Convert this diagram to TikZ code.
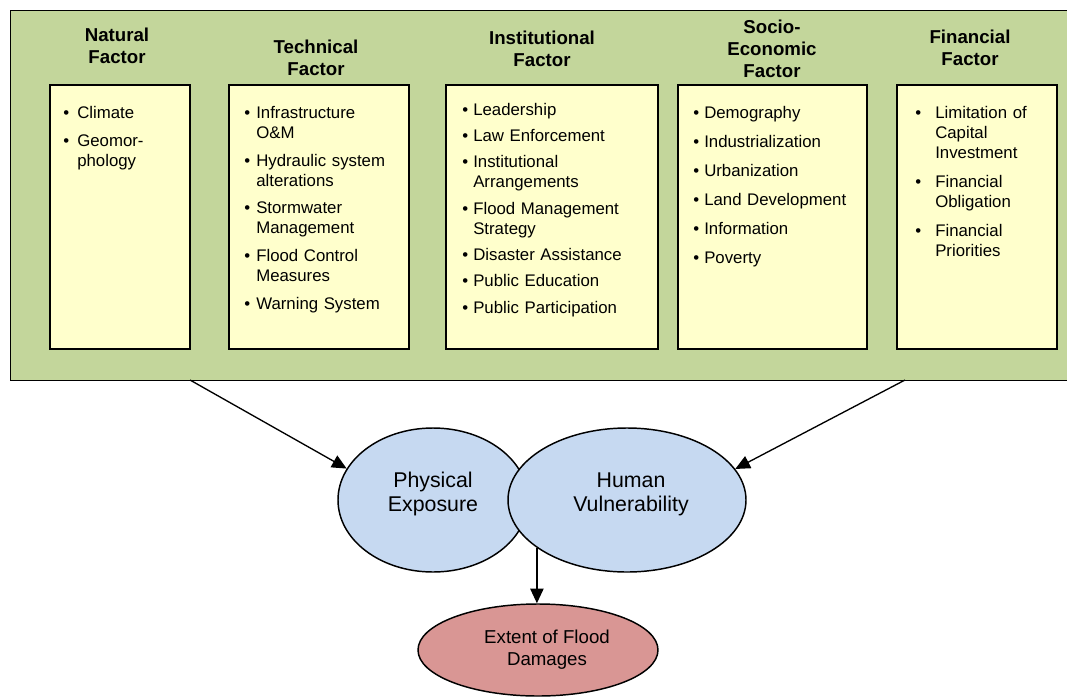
\documentclass[tikz,border=0pt]{standalone}
\usepackage{fontspec}
\setmainfont{Liberation Sans}
\usetikzlibrary{shapes.geometric,arrows.meta}
\newlength\px \setlength\px{0.75pt}
\newlength\hind
\newlength\igap
\definecolor{framegreen}{HTML}{C3D69B}
\definecolor{boxyellow}{HTML}{FFFFCC}
\definecolor{ellblue}{HTML}{C6D9F1}
\definecolor{ellred}{HTML}{D99694}
\newcommand\itm[1]{\hangindent=\hind\hangafter=1\noindent\makebox[\hind][l]{\textbullet}#1\par}
\newcommand\gp{\vspace{\igap}}
\tikzset{
  frame/.style={draw=black, line width=1.1pt, fill=framegreen, rectangle, inner sep=0pt},
  ybox/.style={draw=black, line width=1.5pt, fill=boxyellow, rectangle, inner sep=0pt, minimum height=264\px},
  ttl/.style={inner sep=0pt, align=center, font=\fontsize{14pt}{16.5pt}\selectfont\bfseries},
  items/.style={inner sep=0pt, anchor=north west, text width=200\px, align=left, font=\fontsize{12.6pt}{15pt}\selectfont},
  ell/.style={ellipse, draw=black, line width=1.1pt, inner sep=0pt},
  etxt/.style={inner sep=0pt, align=center, font=\fontsize{16pt}{18pt}\selectfont},
  arr/.style={draw=black, line width=1pt, -{Triangle[length=11pt,width=10pt]}}
}
\begin{document}
\begin{tikzpicture}[x=0.75pt,y=-0.75pt]
\useasboundingbox (0,0) rectangle (1067,696);
% frame
\node[frame, minimum width=1062\px, minimum height=370\px, anchor=north west] (frame) at (10,10) {};
% boxes
\node[ybox, minimum width=140\px, anchor=north west] (b1) at (49,84) {};
\node[ybox, minimum width=180\px, anchor=north west] (b2) at (228,84) {};
\node[ybox, minimum width=212\px, anchor=north west] (b3) at (445,84) {};
\node[ybox, minimum width=189\px, anchor=north west] (b4) at (677,84) {};
\node[ybox, minimum width=160\px, anchor=north west] (b5) at (896,84) {};
% titles
\node[ttl] (h1) at (117,46) {Natural\\Factor};
\node[ttl] (h2) at (316,58) {Technical\\Factor};
\node[ttl] (h3) at (542,49) {Institutional\\Factor};
\node[ttl] (h4) at (772,49) {Socio-\\Economic\\Factor};
\node[ttl] (h5) at (970,48) {Financial\\Factor};
% items
\node[items] (t1) at (63,106) {\setlength\hind{14\px}\setlength\igap{6pt}%
\itm{Climate}\gp
\itm{Geomor-\newline phology}};
\node[items] (t2) at (244,106) {\setlength\hind{12\px}\setlength\igap{5.8pt}%
\itm{Infrastructure\newline O\&M}\gp
\itm{Hydraulic system\newline alterations}\gp
\itm{Stormwater\newline Management}\gp
\itm{Flood Control\newline Measures}\gp
\itm{Warning System}};
\node[items] (t3) at (462,103) {\setlength\hind{11\px}\setlength\igap{4.7pt}%
\itm{Leadership}\gp
\itm{Law Enforcement}\gp
\itm{Institutional\newline Arrangements}\gp
\itm{Flood Management\newline Strategy}\gp
\itm{Disaster Assistance}\gp
\itm{Public Education}\gp
\itm{Public Participation}};
\node[items] (t4) at (693,106) {\setlength\hind{11\px}\setlength\igap{6.75pt}%
\itm{Demography}\gp
\itm{Industrialization}\gp
\itm{Urbanization}\gp
\itm{Land Development}\gp
\itm{Information}\gp
\itm{Poverty}};
\node[items] (t5) at (915,106) {\setlength\hind{20\px}\setlength\igap{6.75pt}%
\itm{Limitation of\newline Capital\newline Investment}\gp
\itm{Financial\newline Obligation}\gp
\itm{Financial\newline Priorities}};
% ellipses
\node[ell, fill=ellblue, minimum width=190\px, minimum height=144\px] (phys) at (433,500) {};
\node[ell, fill=ellblue, minimum width=238\px, minimum height=144\px] (hum) at (627,500) {};
\node[ell, fill=ellred, minimum width=240\px, minimum height=92\px] (ext) at (538,650) {};
\node[etxt] (physt) at (433,494) {Physical\\Exposure};
\node[etxt] (humt) at (631,494) {Human\\Vulnerability};
\node[etxt, font=\fontsize{14pt}{16.5pt}\selectfont] (extt) at (547,650) {Extent of Flood\\Damages};
% connectors
\coordinate (a1) at (190,380);
\coordinate (a2) at (905,380);
\draw[arr] (a1) -- (phys.160);
\draw[arr] (a2) -- (hum.16);
\draw[arr] (hum.208) -- (hum.208 |- ext.north);
\end{tikzpicture}
\end{document}
